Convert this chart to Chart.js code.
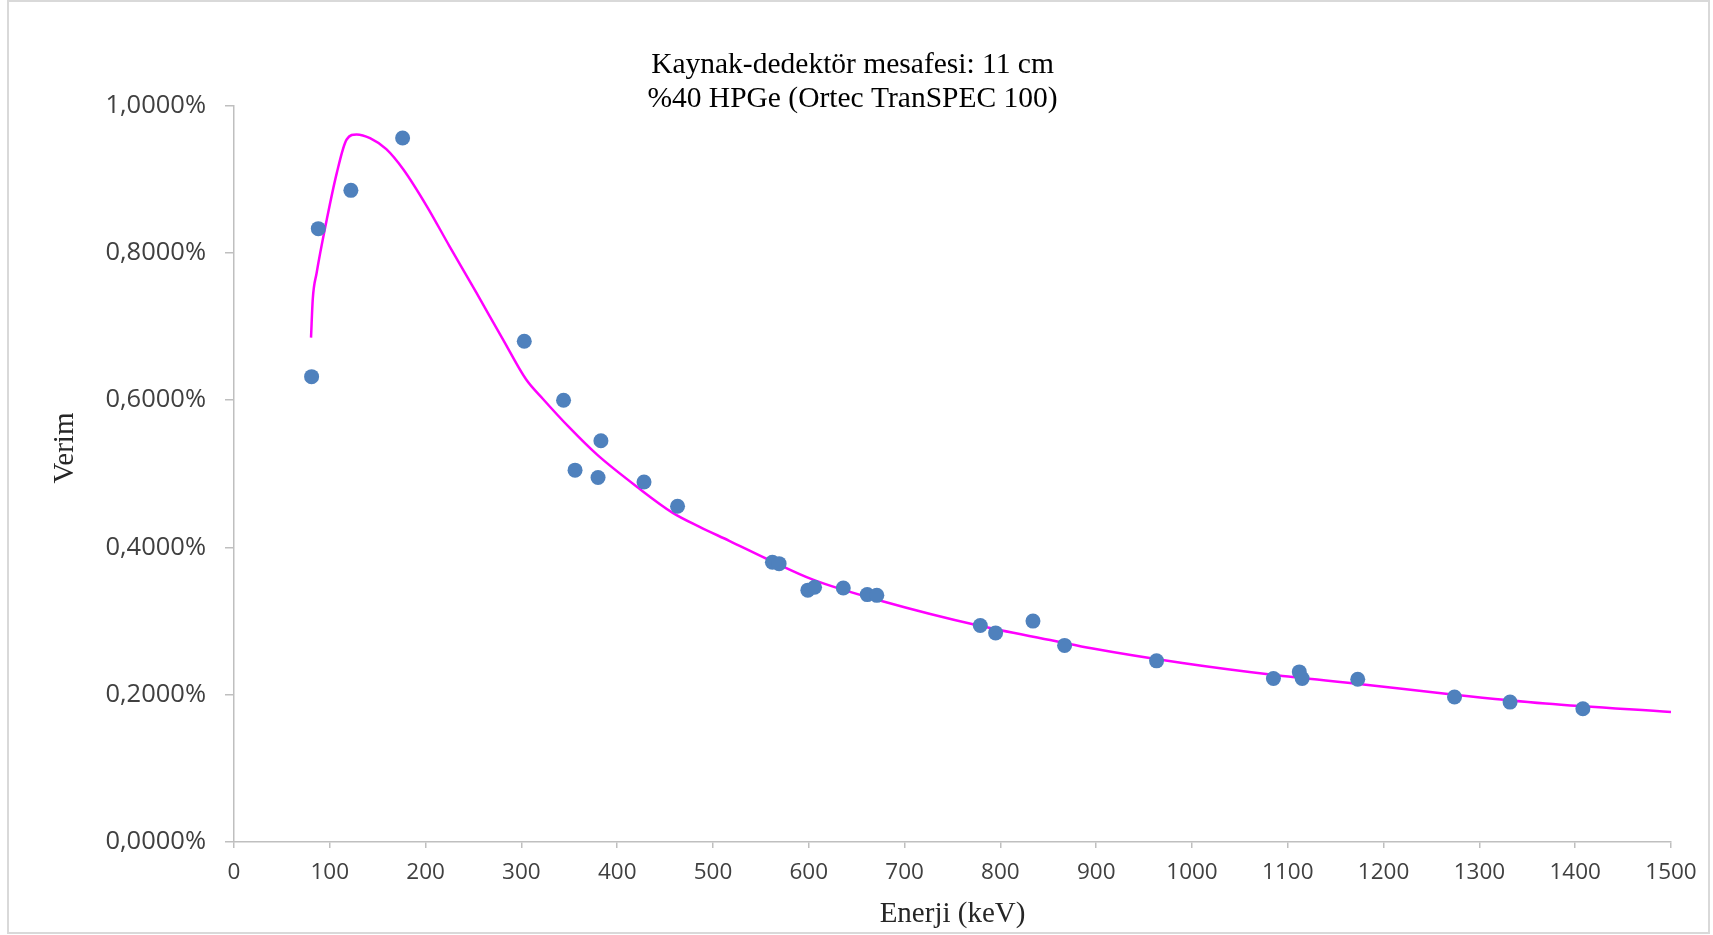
<!DOCTYPE html>
<html>
<head>
<meta charset="utf-8">
<title>Verim - Enerji</title>
<script src="https://cdn.jsdelivr.net/npm/chart.js@4.4.1/dist/chart.umd.min.js"></script>
<style>
    body { margin: 0; background: #ffffff; overflow: hidden; }
    #chartBox { width: 1713px; height: 935px; position: relative; }
</style>
</head>
<body>
<div id="chartBox"><canvas id="verimChart"></canvas></div>
<script>
// measured points (energy keV, efficiency %)
const energies = [81, 88, 122, 176, 303, 344, 356, 380, 383, 428, 463, 562, 569, 599, 606,
    636, 661, 671, 779, 795, 834, 867, 963, 1085, 1112, 1115, 1173, 1274, 1332, 1408];
const efficiencies = [0.632, 0.833, 0.885, 0.956, 0.680, 0.600, 0.505, 0.495, 0.545, 0.489, 0.456,
    0.380, 0.378, 0.342, 0.346, 0.345, 0.336, 0.335, 0.294, 0.284, 0.300, 0.267, 0.246,
    0.222, 0.231, 0.222, 0.221, 0.197, 0.190, 0.181];

// fitted curve
const fitEnergies = [80.4, 82.2, 86.3, 96.8, 107.2, 117.6, 128, 142, 159, 177, 201, 225, 253, 281,
    305, 323, 350, 379, 422, 458, 486, 517, 557, 605, 677, 777, 857, 895, 990, 1084, 1179, 1274, 1369, 1500];
const fitEfficiencies = [0.685, 0.737, 0.773, 0.845, 0.908, 0.954, 0.961, 0.956, 0.941, 0.913, 0.864,
    0.809, 0.746, 0.682, 0.628, 0.601, 0.563, 0.526, 0.481, 0.447, 0.428, 0.409, 0.384, 0.356, 0.327,
    0.294, 0.273, 0.263, 0.243, 0.227, 0.214, 0.200, 0.188, 0.1766];

const titleLines = ['Kaynak-dedektör mesafesi: 11 cm', '%40 HPGe (Ortec TranSPEC 100)'];
const xTitle = 'Enerji (keV)';
const yTitle = 'Verim';

window.addEventListener('load', loadChart);

// chart frame like the excel chart area
const framePlugin = {
    id: 'frame',
    beforeDraw(chart) {
        const ctx = chart.ctx;
        ctx.save();
        ctx.strokeStyle = '#d9d9d9';
        ctx.lineWidth = 2;
        ctx.strokeRect(8, 1, 1701, 932);
        ctx.restore();
    }
};

// vertical axis title, placed as in the picture
const yTitlePlugin = {
    id: 'yTitle',
    afterDraw(chart) {
        const ctx = chart.ctx;
        ctx.save();
        ctx.translate(65, 448);
        ctx.rotate(-Math.PI / 2);
        ctx.font = '29px "Liberation Serif"';
        ctx.fillStyle = '#262626';
        ctx.textAlign = 'center';
        ctx.textBaseline = 'middle';
        ctx.fillText(yTitle, 0, 0);
        ctx.restore();
    }
};

function loadChart() {
    const points = energies.map((e, i) => ({x: e, y: efficiencies[i]}));
    const fit = fitEnergies.map((e, i) => ({x: e, y: fitEfficiencies[i]}));

    new Chart(document.getElementById('verimChart'), {
        type: 'scatter',
        data: {
            datasets: [{
                label: 'Verim',
                data: points,
                backgroundColor: '#4f81bd',
                borderColor: '#4f81bd',
                pointRadius: 7.5,
                pointHoverRadius: 7.5,
                borderWidth: 0
            }, {
                label: 'Fit',
                data: fit,
                showLine: true,
                borderColor: '#ff00ff',
                borderWidth: 2.5,
                pointRadius: 0,
                cubicInterpolationMode: 'monotone',
                fill: false
            }]
        },
        options: {
            responsive: true,
            maintainAspectRatio: false,
            animation: false,
            layout: {padding: {left: 34, right: 42, top: 0, bottom: 0}},
            plugins: {
                legend: {display: false},
                tooltip: {enabled: false},
                title: {
                    display: true,
                    text: titleLines,
                    color: '#000000',
                    font: {family: '"Liberation Serif"', size: 29.5, weight: 'normal', lineHeight: 1.13},
                    padding: {top: 49, bottom: -10}
                }
            },
            scales: {
                x: {
                    type: 'linear',
                    min: 0,
                    max: 1500,
                    afterFit: (scale) => { scale.height = 93; },
                    border: {display: true, color: '#bfbfbf', width: 1.5},
                    grid: {drawOnChartArea: false, drawTicks: true, tickLength: 6, color: '#bfbfbf', lineWidth: 1.5},
                    ticks: {
                        stepSize: 100,
                        color: '#404040',
                        padding: 11,
                        maxRotation: 0,
                        font: {family: '"Open Sans"', size: 22.5},
                        callback: (v) => String(v)
                    },
                    title: {
                        display: true,
                        text: xTitle,
                        color: '#262626',
                        font: {family: '"Liberation Serif"', size: 29, lineHeight: 1.17},
                        padding: {top: 0, bottom: 4}
                    }
                },
                y: {
                    type: 'linear',
                    min: 0,
                    max: 1,
                    afterFit: (scale) => { scale.width = 200; },
                    border: {display: true, color: '#bfbfbf', width: 1.5},
                    grid: {drawOnChartArea: false, drawTicks: true, tickLength: 9, color: '#bfbfbf', lineWidth: 1.5},
                    ticks: {
                        stepSize: 0.2,
                        color: '#404040',
                        padding: 19,
                        font: {family: '"Open Sans"', size: 25.5},
                        callback: (v) => v.toFixed(4).replace('.', ',') + '%'
                    }
                }
            }
        },
        plugins: [framePlugin, yTitlePlugin]
    });
}
</script>
</body>
</html>
